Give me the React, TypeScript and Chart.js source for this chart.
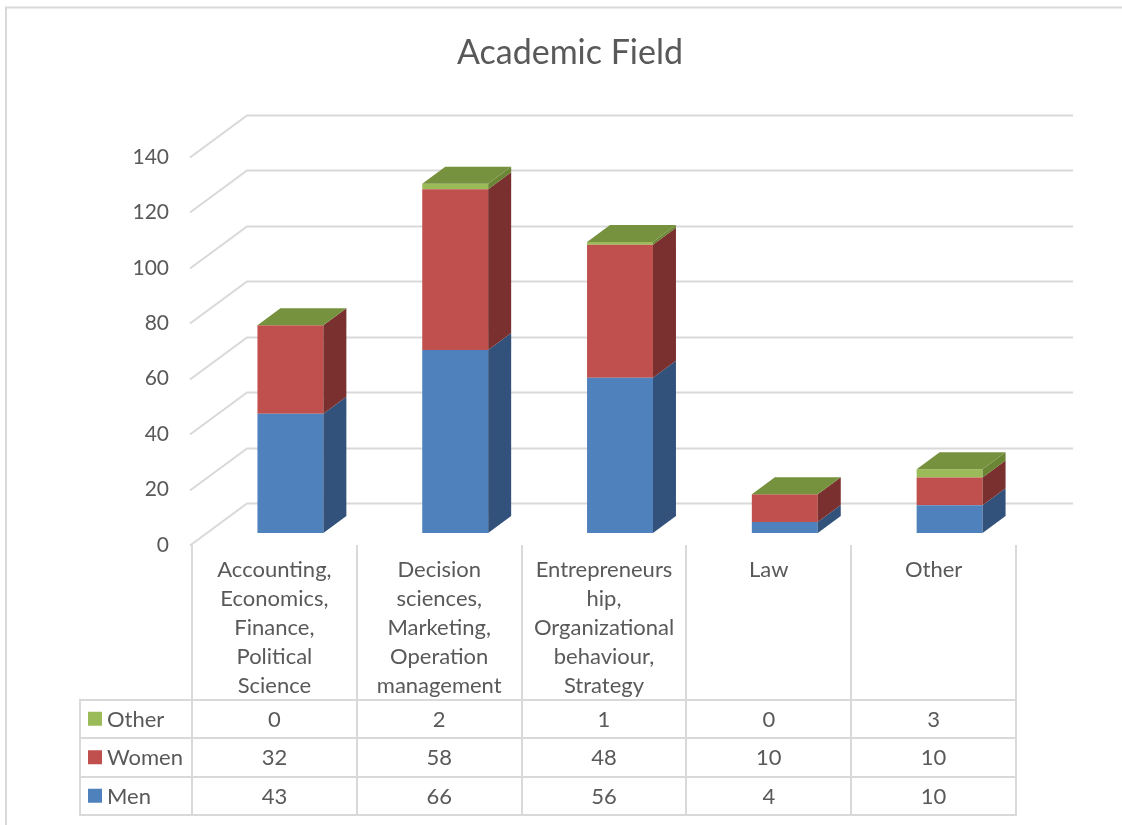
import React, { useEffect, useRef } from "react";
import { Chart, registerables } from "chart.js";

Chart.register(...registerables);

// ---- data ----
const categories: string[][] = [
  ["Accounting,", "Economics,", "Finance,", "Political", "Science"],
  ["Decision", "sciences,", "Marketing,", "Operation", "management"],
  ["Entrepreneurs", "hip,", "Organizational", "behaviour,", "Strategy"],
  ["Law"],
  ["Other"],
];
const seriesNames = ["Men", "Women", "Other"];
const men = [43, 66, 56, 4, 10];
const women = [32, 58, 48, 10, 10];
const other = [0, 2, 1, 0, 3];
const yMin = 0;
const yMax = 140;
const yStep = 20;
const title = "Academic Field";

// ---- styles ----
const FONT = "Lato";
const TEXT = "#595959";
const GRID = "#D9D9D9";
const FRONT = ["#4F81BD", "#C0504D", "#9BBB59"];
const SIDE = ["#32527B", "#7A302E", "#6A8534"];
const TOP = "#77923F";
const BAR_SHIFT = [16, -12];
const BAR_DEPTH = [23, -17];
const WALL = [57, -42];

const threeD = {
  id: "threeD",
  beforeDraw(chart: any) {
    const { ctx, width, height } = chart;
    ctx.save();
    ctx.fillStyle = "#ffffff";
    ctx.fillRect(0, 0, width, height);
    ctx.strokeStyle = GRID;
    ctx.lineWidth = 2;
    ctx.strokeRect(6, 7.5, width + 40, height + 40);
    ctx.restore();
  },
  beforeDatasetsDraw(chart: any) {
    const { ctx, chartArea } = chart;
    const y = chart.scales.y;
    ctx.save();
    ctx.strokeStyle = GRID;
    ctx.lineWidth = 2;
    for (const t of y.ticks) {
      const py = Math.round(y.getPixelForValue(t.value)) + 0.5;
      ctx.beginPath();
      ctx.moveTo(chartArea.left - 2, py);
      ctx.lineTo(chartArea.left - 2 + WALL[0], py + WALL[1]);
      ctx.lineTo(chartArea.right + WALL[0], py + WALL[1]);
      ctx.stroke();
    }
    ctx.restore();
    ctx.save();
    ctx.translate(BAR_SHIFT[0], BAR_SHIFT[1]);
  },
  afterDatasetsDraw(chart: any) {
    const { ctx } = chart;
    const n = chart.data.datasets.length;
    for (let d = 0; d < n; d++) {
      const meta = chart.getDatasetMeta(d);
      meta.data.forEach((bar: any) => {
        const { x, y, base, width } = bar.getProps(["x", "y", "base", "width"], true);
        const xr = x + width / 2;
        ctx.fillStyle = SIDE[d];
        ctx.beginPath();
        ctx.moveTo(xr, y);
        ctx.lineTo(xr + BAR_DEPTH[0], y + BAR_DEPTH[1]);
        ctx.lineTo(xr + BAR_DEPTH[0], base + BAR_DEPTH[1]);
        ctx.lineTo(xr, base);
        ctx.closePath();
        ctx.fill();
      });
    }
    const topMeta = chart.getDatasetMeta(n - 1);
    topMeta.data.forEach((bar: any) => {
      const { x, y, width } = bar.getProps(["x", "y", "width"], true);
      const xl = x - width / 2;
      const xr = x + width / 2;
      ctx.fillStyle = TOP;
      ctx.beginPath();
      ctx.moveTo(xl, y);
      ctx.lineTo(xl + BAR_DEPTH[0], y + BAR_DEPTH[1]);
      ctx.lineTo(xr + BAR_DEPTH[0], y + BAR_DEPTH[1]);
      ctx.lineTo(xr, y);
      ctx.closePath();
      ctx.fill();
    });
    ctx.restore();
  },
  afterDraw(chart: any) {
    const { ctx, chartArea } = chart;
    const x = chart.scales.x;
    const nCat = categories.length;
    const colW = (chartArea.right - chartArea.left) / nCat;
    const tableBottom = chart.height - 10;
    const rowH = 38.5;
    const rowsTop = tableBottom - 3 * rowH;
    const legendLeft = 80;
    ctx.save();
    ctx.strokeStyle = GRID;
    ctx.lineWidth = 2;
    ctx.beginPath();
    for (let k = 0; k <= nCat; k++) {
      const px = Math.round(chartArea.left + k * colW);
      ctx.moveTo(px, chartArea.bottom);
      ctx.lineTo(px, tableBottom);
    }
    ctx.moveTo(legendLeft, rowsTop);
    ctx.lineTo(legendLeft, tableBottom);
    for (let r = 0; r <= 3; r++) {
      const py = Math.round(rowsTop + r * rowH);
      ctx.moveTo(legendLeft - 1, py);
      ctx.lineTo(chartArea.right + 1, py);
    }
    ctx.stroke();

    const rows = [
      { name: seriesNames[2], values: other, color: FRONT[2] },
      { name: seriesNames[1], values: women, color: FRONT[1] },
      { name: seriesNames[0], values: men, color: FRONT[0] },
    ];
    ctx.font = `22px ${FONT}`;
    ctx.textBaseline = "middle";
    rows.forEach((row, r) => {
      const cy = rowsTop + r * rowH + rowH / 2;
      ctx.fillStyle = row.color;
      ctx.fillRect(legendLeft + 8, cy - 7, 14, 14);
      ctx.fillStyle = TEXT;
      ctx.textAlign = "left";
      ctx.fillText(row.name, legendLeft + 27, cy + 1);
      ctx.textAlign = "center";
      row.values.forEach((v, i) => {
        ctx.fillText(String(v), x.getPixelForValue(i), cy + 1);
      });
    });
    ctx.restore();
  },
};

export default function App() {
  const ref = useRef<HTMLCanvasElement>(null);
  useEffect(() => {
    const canvas = ref.current!;
    const chart = new Chart(canvas, {
      type: "bar",
      data: {
        labels: categories,
        datasets: [
          { label: seriesNames[0], data: men, backgroundColor: FRONT[0] },
          { label: seriesNames[1], data: women, backgroundColor: FRONT[1] },
          { label: seriesNames[2], data: other, backgroundColor: FRONT[2] },
        ],
      },
      options: {
        responsive: false,
        animation: false,
        devicePixelRatio: 1,
        layout: { padding: { left: 18, right: 0, top: 0, bottom: 0 } },
        datasets: {
          bar: { categoryPercentage: 0.4, barPercentage: 1, borderWidth: 0, clip: false as any },
        },
        plugins: {
          legend: { display: false },
          tooltip: { enabled: false },
          title: {
            display: true,
            text: title,
            color: TEXT,
            font: { family: FONT, size: 34, weight: "normal" as any, lineHeight: 1.2 },
            padding: { top: 33, bottom: 157 - 33 - 34 * 1.2 },
          },
        },
        scales: {
          x: {
            stacked: true,
            grid: { display: false, drawTicks: false },
            border: { display: false },
            ticks: {
              autoSkip: false,
              maxRotation: 0,
              minRotation: 0,
              color: TEXT,
              padding: 10.5,
              font: { family: FONT, size: 22, lineHeight: 29 / 22 },
            },
            afterFit: (scale: any) => {
              scale.height = 280;
            },
          },
          y: {
            stacked: true,
            min: yMin,
            max: yMax,
            grid: { display: false, drawTicks: false },
            border: { display: false },
            ticks: {
              stepSize: yStep,
              color: TEXT,
              padding: 23,
              font: { family: FONT, size: 21 },
            },
            afterFit: (scale: any) => {
              scale.width = 174;
            },
          },
          yRight: {
            position: "right",
            min: yMin,
            max: yMax,
            grid: { display: false, drawTicks: false },
            border: { display: false },
            ticks: { display: false },
            afterFit: (scale: any) => {
              scale.width = 106;
            },
          },
        },
      },
      plugins: [threeD],
    });
    return () => chart.destroy();
  }, []);
  return (
    <div style={{ position: "absolute", left: 0, top: 0, width: 1122, height: 825, background: "#fff" }}>
      <canvas ref={ref} width={1122} height={825} style={{ display: "block" }} />
    </div>
  );
}
